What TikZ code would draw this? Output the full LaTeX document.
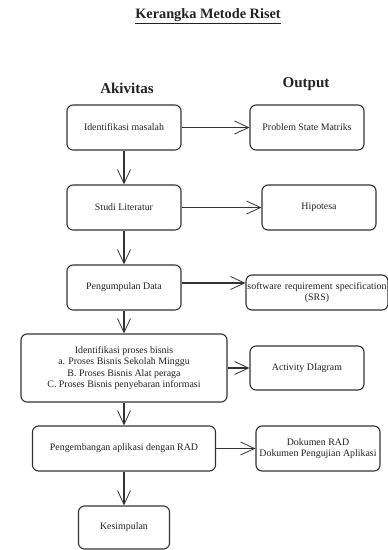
\documentclass[tikz,border=0pt]{standalone}
\usepackage{fontspec}
\setmainfont{Liberation Serif}
\usetikzlibrary{arrows.meta}
\definecolor{ln}{HTML}{333333}
\definecolor{tx}{HTML}{222222}
\begin{document}
\begin{tikzpicture}[x=1pt,y=-1pt,
  box/.style={draw=ln,line width=1.1pt,rounded corners=6pt,align=center,text=tx,font=\fontsize{9.9}{11.5}\selectfont,inner sep=1pt},
  arr/.style={draw=ln,line width=1.1pt,-{Straight Barb[length=14pt,width=13pt,line width=0.8pt]}},
  hdr/.style={font=\fontsize{15}{17}\selectfont\bfseries,text=tx}]
\useasboundingbox (0,0) rectangle (388,550);
\node[font=\fontsize{14.3}{16}\selectfont\bfseries,text=tx] (title) at (208,16) {\underline{Kerangka Metode Riset}};
\node[hdr] (h1) at (127,88) {Akivitas};
\node[hdr] (h2) at (306,84) {Output};
\node[box,minimum width=114pt,minimum height=45pt] (b1) at (124,127.5) {Identifikasi masalah};
\node[box,minimum width=114pt,minimum height=45pt] (o1) at (307,127.5) {Problem State Matriks};
\node[box,minimum width=114pt,minimum height=45pt] (b2) at (124,207.5) {Studi Literatur};
\node[box,minimum width=114pt,minimum height=45pt] (o2) at (319,207.5) {Hipotesa};
\node[box,minimum width=114pt,minimum height=45pt] (b3) at (124,287.5) {Pengumpulan Data};
\node[box,minimum width=140pt,text width=140pt,minimum height=35pt] (o3) at (317,292.5) {software requirement specification\\(SRS)};
\node[box,minimum width=206pt,minimum height=68pt] (b4) at (124,368) {Identifikasi proses bisnis\\a. Proses Bisnis Sekolah Minggu\\B. Proses Bisnis Alat peraga\\C. Proses Bisnis penyebaran informasi};
\node[box,minimum width=114pt,minimum height=44pt] (o4) at (307,368) {Activity DIagram};
\node[box,minimum width=183pt,minimum height=45pt] (b5) at (124,448.5) {Pengembangan aplikasi dengan RAD};
\node[box,minimum width=124pt,minimum height=45pt] (o5) at (318,448.5) {Dokumen RAD\\Dokumen Pengujian Aplikasi};
\node[box,minimum width=91pt,minimum height=43pt] (b6) at (124,527.5) {Kesimpulan};
\coordinate (a3) at ([yshift=4.5pt]b3.east);
\draw[arr] (b1) -- (o1);
\draw[arr] (b2) -- (o2);
\draw[arr] (a3) -- (o3.west |- a3);
\draw[arr] (b4) -- (o4);
\draw[arr] (b5) -- (o5);
\draw[arr] (b1) -- (b2);
\draw[arr] (b2) -- (b3);
\draw[arr] (b3) -- (b4);
\draw[arr] (b4) -- (b5);
\draw[arr] (b5) -- (b6);
\end{tikzpicture}
\end{document}
